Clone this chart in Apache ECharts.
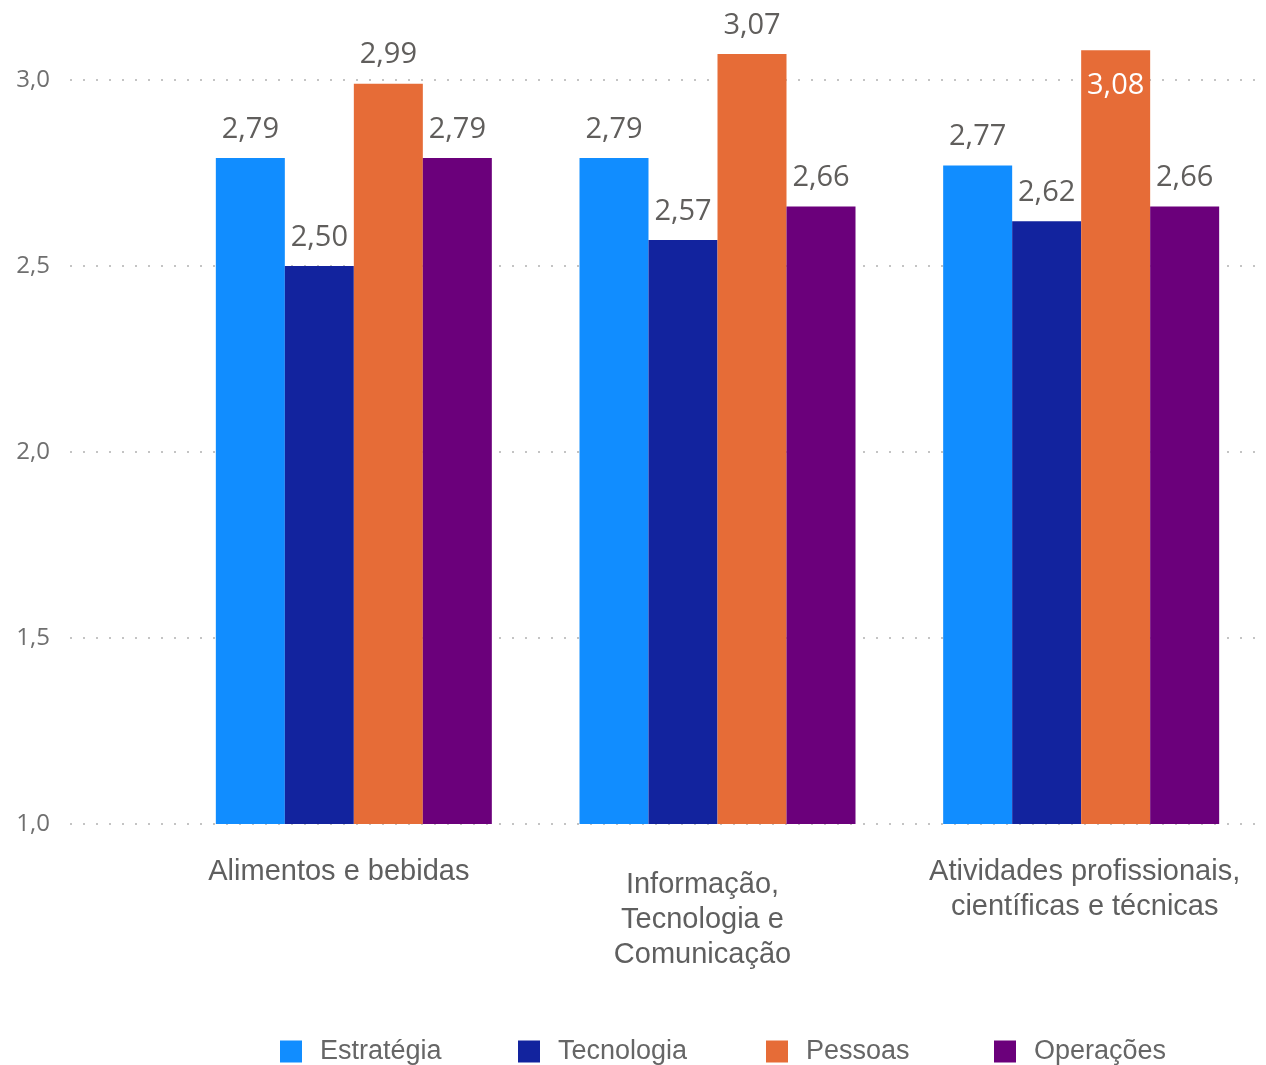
<!DOCTYPE html>
<html>
<head>
<meta charset="utf-8">
<script src="https://cdn.jsdelivr.net/npm/echarts@6/dist/echarts.min.js"></script>
<style>html,body{margin:0;padding:0;background:#fff}#c{width:1266px;height:1065px}</style>
</head>
<body>
<div id="c"></div>
<script>
const categories = ['Alimentos e bebidas', 'Informação, Tecnologia e Comunicação', 'Atividades profissionais, científicas e técnicas'];
const estrategia = [2.79, 2.79, 2.77];
const tecnologia = [2.50, 2.57, 2.62];
const pessoas = [2.99, 3.07, 3.08];
const operacoes = [2.79, 2.66, 2.66];
const seriesNames = ['Estratégia', 'Tecnologia', 'Pessoas', 'Operações'];
const colors = ['#118DFF', '#12239E', '#E66C37', '#6B007B'];
const yTicks = [1.0, 1.5, 2.0, 2.5, 3.0];
const barAxisMax = 3.1;

const chart = echarts.init(document.getElementById('c'));
const fmt = v => v.toFixed(2).replace('.', ',');
const valLabel = {
  show: true, position: 'top', distance: 14,
  fontFamily: 'Open Sans', fontSize: 29, color: '#605E5C',
  formatter: p => fmt(p.value)
};
function mkSeries(name, data, color, special) {
  return {
    name, type: 'bar', xAxisIndex: 1, yAxisIndex: 1,
    data: data.map((v, i) => {
      if (special && special[i]) {
        return { value: v, label: { position: 'insideTop', distance: 21, color: '#ffffff' } };
      }
      return v;
    }),
    barWidth: 69, barGap: '0%',
    itemStyle: { color },
    label: valLabel
  };
}
const legendLefts = [280, 518, 766, 994];
chart.setOption({
  animation: false,
  color: colors,
  grid: [
    { left: 70, right: 4, top: 80, bottom: 241 },
    { left: 172, right: 3, top: 42.8, bottom: 241 }
  ],
  xAxis: [
    { gridIndex: 0, type: 'value', show: false, min: 0, max: 1 },
    {
      gridIndex: 1, type: 'category', data: categories,
      axisLine: { show: false }, axisTick: { show: false },
      axisLabel: {
        margin: 30, interval: 0,
        formatter: (v, i) => {
          if (i === 0) return '{a|Alimentos e bebidas}';
          if (i === 1) return '{g| }\n{a|Informação,}\n{a|Tecnologia e}\n{a|Comunicação}';
          return '{c|Atividades profissionais,}\n{c|científicas e técnicas}';
        },
        rich: {
          a: { fontFamily: 'Liberation Sans', fontSize: 29, lineHeight: 35, color: '#5f5f5f', padding: [0, 30, 0, 0] },
          c: { fontFamily: 'Liberation Sans', fontSize: 29, lineHeight: 35, color: '#5f5f5f', padding: [0, 0, 0, 7] },
          g: { fontSize: 1, lineHeight: 13 }
        }
      }
    }
  ],
  yAxis: [
    {
      gridIndex: 0, type: 'value', min: yTicks[0], max: yTicks[yTicks.length - 1], interval: 0.5,
      axisLine: { show: false }, axisTick: { show: false },
      axisLabel: {
        margin: 20, fontFamily: 'Open Sans', fontSize: 24, color: '#6f6f6f',
        formatter: v => v.toFixed(1).replace('.', ',')
      },
      splitLine: { show: true, lineStyle: { color: '#c4c4c4', width: 2, type: [2, 11] } }
    },
    {
      gridIndex: 1, type: 'value', min: yTicks[0], max: barAxisMax,
      show: false, splitLine: { show: false }
    }
  ],
  legend: seriesNames.map((n, i) => ({
    data: [n], left: legendLefts[i], top: 1038, itemWidth: 22, itemHeight: 22,
    icon: 'rect', padding: 0,
    textStyle: { fontFamily: 'Liberation Sans', fontSize: 27, color: '#666666', padding: [0, 0, 0, 13] }
  })),
  series: [
    mkSeries(seriesNames[0], estrategia, colors[0]),
    mkSeries(seriesNames[1], tecnologia, colors[1]),
    mkSeries(seriesNames[2], pessoas, colors[2], [false, false, true]),
    mkSeries(seriesNames[3], operacoes, colors[3])
  ]
});
</script>
</body>
</html>
